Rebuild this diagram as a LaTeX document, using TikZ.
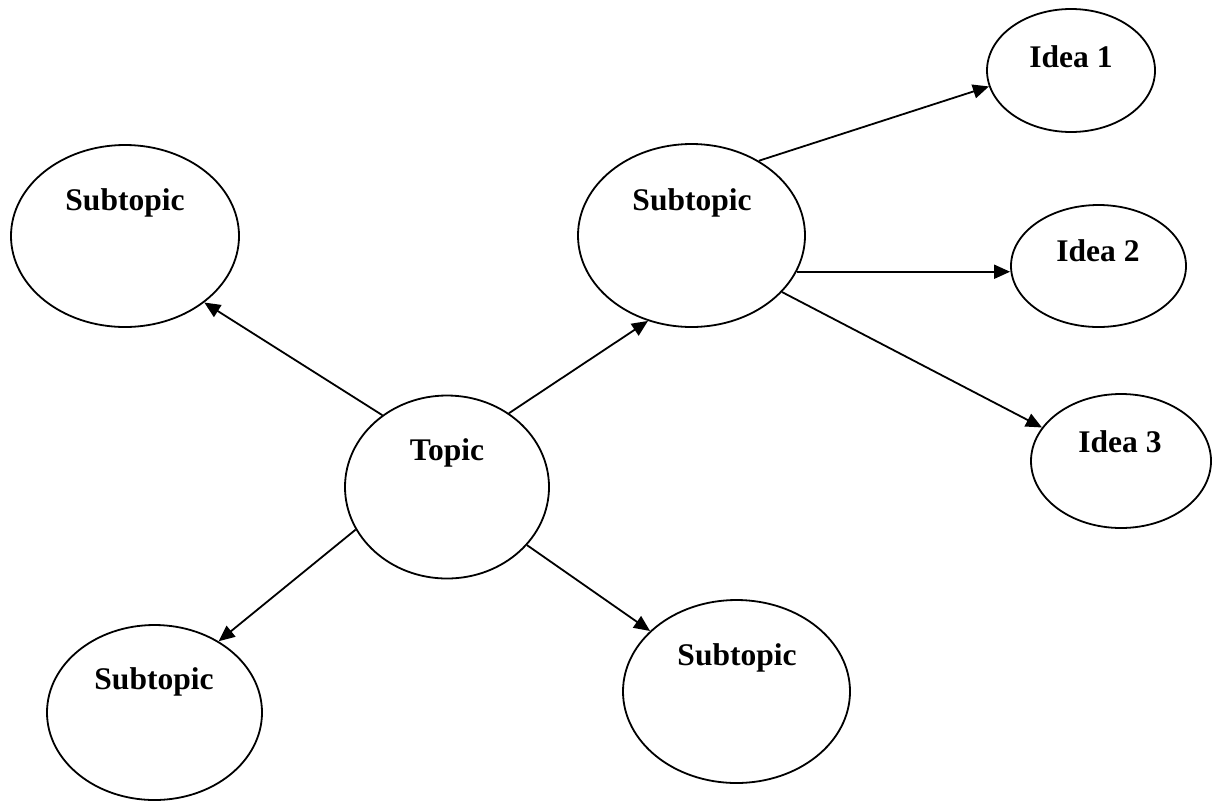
\documentclass[tikz,border=0pt]{standalone}
\usepackage{fontspec}
\setmainfont{Liberation Serif}
\usetikzlibrary{shapes.geometric, arrows.meta}
\begin{document}
\begin{tikzpicture}[x=1pt, y=-1pt,
  bubble/.style={ellipse, draw, line width=1.8pt, inner sep=0pt},
  lbl/.style={anchor=base, inner sep=0pt, font=\fontsize{31.5}{36}\selectfont\bfseries},
  link/.style={line width=1.8pt, -{Triangle[length=16pt, width=14pt]}}]
\useasboundingbox (0,0) rectangle (1214,801);

% bubbles
\node[bubble, minimum width=204pt, minimum height=183pt] (topic) at (447,487) {};
\node[bubble, minimum width=228pt, minimum height=182pt] (subtl) at (125,236) {};
\node[bubble, minimum width=227pt, minimum height=183pt] (subtm) at (691.5,235.5) {};
\node[bubble, minimum width=215pt, minimum height=175pt] (subbl) at (154.5,712.5) {};
\node[bubble, minimum width=227pt, minimum height=183pt] (subbm) at (736.5,691.5) {};
\node[bubble, minimum width=168pt, minimum height=123pt] (idea1) at (1071,70.5) {};
\node[bubble, minimum width=175pt, minimum height=122pt] (idea2) at (1098.5,266) {};
\node[bubble, minimum width=180pt, minimum height=134pt] (idea3) at (1121,461) {};

% captions
\node[lbl] (ttopic) at (447,460) {Topic};
\node[lbl] (ttl) at (125,210) {Subtopic};
\node[lbl] (ttm) at (692,210) {Subtopic};
\node[lbl] (tbl) at (154,689) {Subtopic};
\node[lbl] (tbm) at (737,665) {Subtopic};
\node[lbl] (ti1) at (1071,67) {Idea 1};
\node[lbl] (ti2) at (1098,261) {Idea 2};
\node[lbl] (ti3) at (1120,452) {Idea 3};

% connectors
\draw[link] (topic.132.4) -- (subtl.-40.9);
\draw[link] (topic.50.1) -- (subtm.-117.8);
\draw[link] (topic.205.5) -- (subbl.48.2);
\draw[link] (topic.-36) -- (subbm.145.9);
\draw[link] (subtm.48.1) -- (idea1.191.1);
\draw[link] (subtm.-19.4) -- (subtm.-19.4 -| idea2.west);
\draw[link] (subtm.-32.7) -- (idea3.157.1);
\end{tikzpicture}
\end{document}
